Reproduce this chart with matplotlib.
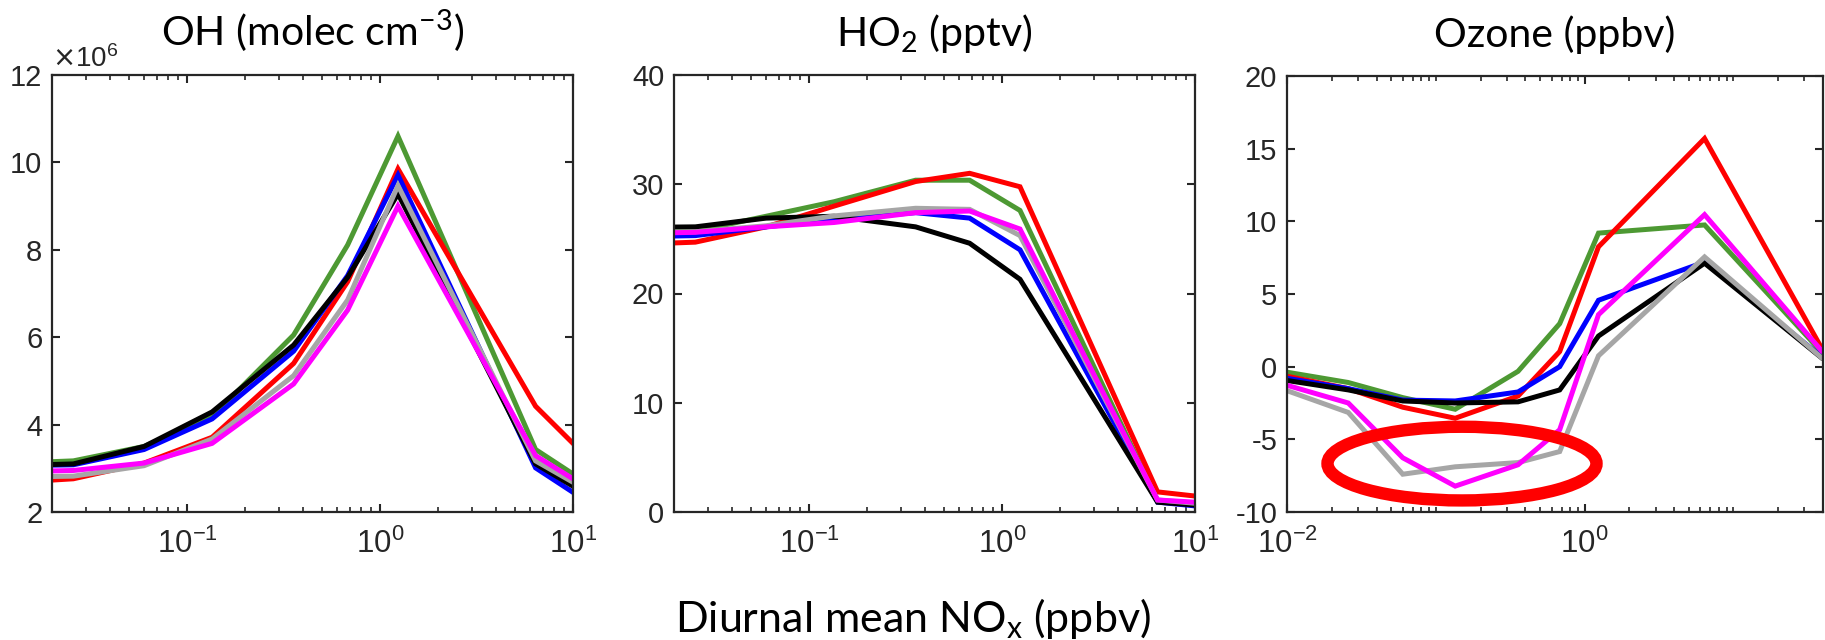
import numpy as np
import matplotlib
matplotlib.use('Agg')
import matplotlib.pyplot as plt
from matplotlib.patches import Ellipse
from matplotlib.ticker import LogLocator, FixedLocator, LogFormatterSciNotation, NullFormatter, MultipleLocator

# ---------------- data ----------------
nox = [0.01, 0.0258, 0.06, 0.135, 0.357, 0.68, 1.24, 6.4, 40]

# OH (x 1e6 molec cm-3)
oh_green   = [3.10, 3.17, 3.50, 4.18, 6.05, 8.11, 10.60, 3.43, 1.13]
oh_red     = [2.65, 2.76, 3.12, 3.71, 5.40, 7.27, 9.85, 4.42, 0.93]
oh_blue    = [3.05, 3.08, 3.43, 4.13, 5.68, 7.41, 9.71, 3.01, 0.71]
oh_black   = [3.05, 3.10, 3.50, 4.29, 5.82, 7.37, 9.28, 3.10, 1.01]
oh_gray    = [2.79, 2.82, 3.06, 3.67, 5.12, 6.85, 9.47, 3.17, 1.16]
oh_magenta = [2.91, 2.95, 3.12, 3.57, 4.93, 6.62, 9.00, 3.29, 1.11]

# HO2 (pptv)
ho2_green   = [25.56, 25.70, 27.07, 28.40, 30.37, 30.37, 27.60, 1.00, -0.03]
ho2_red     = [24.43, 24.70, 26.10, 28.00, 30.25, 31.00, 29.77, 1.84, 0.28]
ho2_blue    = [25.16, 25.30, 26.10, 26.80, 27.40, 26.90, 24.00, 0.90, -0.50]
ho2_black   = [26.03, 26.10, 26.90, 27.07, 26.10, 24.60, 21.30, 0.90, -0.17]
ho2_gray    = [25.58, 25.65, 26.20, 27.10, 27.80, 27.70, 25.30, 1.10, -0.13]
ho2_magenta = [25.46, 25.60, 26.10, 26.50, 27.40, 27.55, 25.90, 1.10, 0.28]

# Ozone (ppbv)
o3_green   = [-0.38, -1.09, -2.13, -2.93, -0.32, 2.96, 9.19, 9.75, 0.90]
o3_red     = [-0.66, -1.51, -2.79, -3.55, -2.02, 1.04, 8.25, 15.70, 1.10]
o3_blue    = [-0.80, -1.51, -2.30, -2.36, -1.74, 0.00, 4.57, 7.20, 0.60]
o3_black   = [-0.95, -1.60, -2.36, -2.50, -2.42, -1.60, 2.11, 7.12, 0.53]
o3_gray    = [-1.65, -3.15, -7.40, -6.89, -6.60, -5.84, 0.75, 7.55, 0.53]
o3_magenta = [-1.28, -2.50, -6.27, -8.22, -6.75, -4.34, 3.58, 10.46, 0.98]

series_order = ['green', 'red', 'blue', 'black', 'gray', 'magenta']
line_colors = {'green': '#4d9933', 'red': '#ff0000', 'blue': '#0000ff',
               'black': '#000000', 'gray': '#a6a6a6', 'magenta': '#ff00ff'}

panels = [
    dict(data={'green': oh_green, 'red': oh_red, 'blue': oh_blue, 'black': oh_black,
               'gray': oh_gray, 'magenta': oh_magenta},
         title=r'OH (molec cm$^{\mathdefault{-3}}$)', xlim=(0.02, 10), ylim=(2, 12), ystep=2,
         xmajor=[0.1, 1, 10], pos=[52, 75, 573, 512]),
    dict(data={'green': ho2_green, 'red': ho2_red, 'blue': ho2_blue, 'black': ho2_black,
               'gray': ho2_gray, 'magenta': ho2_magenta},
         title=r'HO$_{\mathdefault{2}}$ (pptv)', xlim=(0.02, 10), ylim=(0, 40), ystep=10,
         xmajor=[0.1, 1, 10], pos=[674, 75, 1195, 512]),
    dict(data={'green': o3_green, 'red': o3_red, 'blue': o3_blue, 'black': o3_black,
               'gray': o3_gray, 'magenta': o3_magenta},
         title='Ozone (ppbv)', xlim=(0.01, 40), ylim=(-10, 20), ystep=5,
         xmajor=[0.01, 1, 100], pos=[1287, 76, 1823, 512]),
]

# ---------------- style ----------------
plt.rcParams['font.family'] = ['Liberation Sans', 'DejaVu Sans']
plt.rcParams['axes.unicode_minus'] = False
axis_color = '#262626'
title_font = ['Lato', 'DejaVu Sans']

W, H = 1825, 640
fig = plt.figure(figsize=(W / 100, H / 100), dpi=100)

axes = []
for p in panels:
    l, t, r, b = p['pos']
    ax = fig.add_axes([l / W, 1 - b / H, (r - l) / W, (b - t) / H])
    axes.append(ax)
    for name in series_order:
        ax.plot(nox, p['data'][name], color=line_colors[name], lw=3.6,
                solid_joinstyle='miter', solid_capstyle='butt')
    ax.set_xscale('log')
    ax.set_xlim(*p['xlim'])
    ax.set_ylim(*p['ylim'])
    ax.yaxis.set_major_locator(MultipleLocator(p['ystep']))
    ax.xaxis.set_major_locator(FixedLocator(p['xmajor']))
    ax.xaxis.set_major_formatter(LogFormatterSciNotation())
    ax.xaxis.set_minor_locator(LogLocator(base=10, subs=np.arange(1, 10), numticks=60))
    ax.xaxis.set_minor_formatter(NullFormatter())
    ax.tick_params(which='both', direction='in', top=True, right=True,
                   color=axis_color, labelcolor=axis_color)
    ax.tick_params(which='major', length=6, width=1.5, pad=7)
    ax.tick_params(which='minor', length=3.5, width=1.2)
    ax.tick_params(axis='y', which='major', labelsize=21, pad=7)
    ax.tick_params(axis='x', which='major', labelsize=22.5, pad=12)
    for s in ax.spines.values():
        s.set_color(axis_color)
        s.set_linewidth(1.6)
    ax.set_title(p['title'], fontsize=29.5, family=title_font, pad=21, color='black')

# multiplier label for OH panel
axes[0].text(0.0, 1.005, r'$\times\mathdefault{10^{6}}$', transform=axes[0].transAxes,
             ha='left', va='bottom', fontsize=20, color=axis_color)

# annotation ellipse on ozone panel
ell = Ellipse((0.3265, 0.111), 0.502, 0.169, transform=axes[2].transAxes,
              fill=False, edgecolor='#ff0000', lw=8.9, zorder=10, clip_on=False)
axes[2].add_patch(ell)

fig.text(0.5, 1 - 632 / H, r'Diurnal mean NO$_{\mathdefault{x}}$ (ppbv)', ha='center',
         va='baseline', fontsize=31, family=title_font)

fig.savefig('out.png', dpi=100)
